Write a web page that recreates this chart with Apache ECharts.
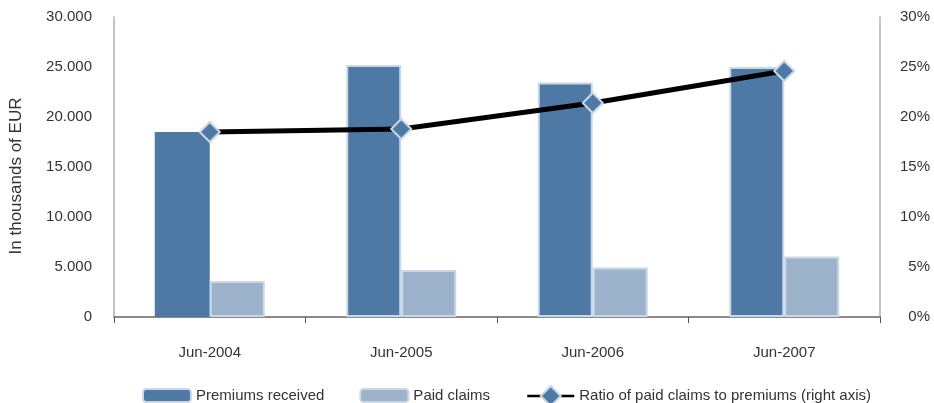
<!DOCTYPE html>
<html><head><meta charset="utf-8">
<script src="https://cdn.jsdelivr.net/npm/echarts@6/dist/echarts.min.js"></script>
<style>html,body{margin:0;padding:0;background:#fff}#c{width:934px;height:403px}</style>
</head><body><div id="c"></div>
<script>
const categories = ['Jun-2004', 'Jun-2005', 'Jun-2006', 'Jun-2007'];
const premiumsReceived = [18500, 25200, 23450, 25000];
const paidClaims = [3600, 4700, 4950, 6050];
const ratioPct = [18.5, 18.8, 21.4, 24.6];
const leftTicks = { min: 0, max: 30000, interval: 5000 };
const rightTicks = { min: 0, max: 30, interval: 5 };

const FONT = '"Liberation Sans", Arial, sans-serif';
const DARK = '#4e79a4', LIGHT = '#9cb3cb', EDGE = '#c9d7e6';
const txt = { color: '#333', fontFamily: FONT, fontSize: 15 };
const RATIO = 'Ratio of paid claims to premiums (right axis)';

const chart = echarts.init(document.getElementById('c'));
chart.setOption({
  animation: false,
  grid: { left: 113, right: 54, top: 17, bottom: 86 },
  legend: [
    {
      left: 142, top: 388, padding: 0, itemWidth: 48, itemHeight: 13, itemGap: 35,
      textStyle: txt,
      data: [
        { name: 'Premiums received', itemStyle: { color: DARK, borderColor: EDGE, borderWidth: 2 } },
        { name: 'Paid claims', itemStyle: { color: LIGHT, borderColor: EDGE, borderWidth: 2 } }
      ]
    },
    {
      left: 526, top: 385, padding: 0, itemWidth: 47, itemHeight: 25, itemGap: 8,
      textStyle: txt,
      data: [{ name: RATIO, lineStyle: { width: 2.5 } }]
    }
  ],
  xAxis: {
    type: 'category', data: categories,
    axisLine: { lineStyle: { color: '#8a8a8a', width: 2 } },
    axisTick: { show: true, length: 6, lineStyle: { color: '#555', width: 1 } },
    axisLabel: Object.assign({ margin: 28 }, txt)
  },
  yAxis: [
    {
      type: 'value', min: leftTicks.min, max: leftTicks.max, interval: leftTicks.interval,
      name: 'In thousands of EUR', nameLocation: 'middle', nameGap: 89, nameRotate: 90,
      nameTextStyle: Object.assign({}, txt, { fontSize: 17, padding: [0, 18, 0, 0] }),
      axisLine: { show: true, lineStyle: { color: '#b0b0b0', width: 1.5 } },
      axisTick: { show: false }, splitLine: { show: false },
      axisLabel: Object.assign({ margin: 22,
        formatter: v => v === 0 ? '0' : v.toLocaleString('en-US').replace(/,/g, '.') }, txt)
    },
    {
      type: 'value', min: rightTicks.min, max: rightTicks.max, interval: rightTicks.interval,
      position: 'right',
      axisLine: { show: true, lineStyle: { color: '#b0b0b0', width: 1.5 } },
      axisTick: { show: false }, splitLine: { show: false },
      axisLabel: Object.assign({ margin: 50, align: 'right', formatter: '{value}%' }, txt)
    }
  ],
  series: [
    {
      name: 'Premiums received', type: 'bar', barWidth: 55, barGap: '0%',
      itemStyle: { color: DARK, borderColor: EDGE, borderWidth: 2 },
      data: premiumsReceived.map((v, i) => i === 0 ? { value: v, itemStyle: { borderWidth: 0 } } : v)
    },
    {
      name: 'Paid claims', type: 'bar', barWidth: 55, barGap: '0%',
      itemStyle: { color: LIGHT, borderColor: EDGE, borderWidth: 2 },
      data: paidClaims
    },
    {
      name: RATIO, type: 'line', yAxisIndex: 1,
      symbol: 'diamond', symbolSize: 20, z: 5,
      lineStyle: { color: '#000', width: 5 },
      itemStyle: { color: DARK, borderColor: EDGE, borderWidth: 2 },
      data: ratioPct
    }
  ]
});
</script></body></html>
